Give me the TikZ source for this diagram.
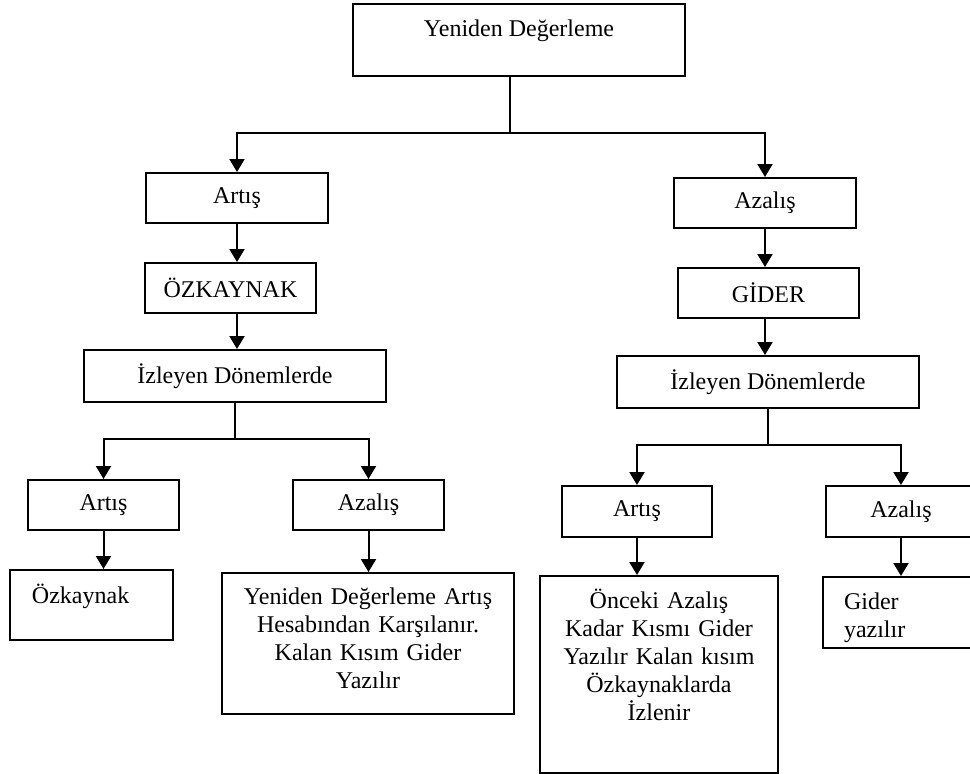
\documentclass[tikz,border=0pt]{standalone}
\usepackage{fontspec}
\setmainfont{Liberation Serif}
\usetikzlibrary{arrows.meta}
\tikzset{
  box/.style={draw=black, line width=1pt, anchor=north west, inner sep=0pt, font=\fontsize{12}{14}\selectfont},
  arr/.style={draw=black, line width=1pt, -{Triangle[length=6.5pt,width=7.5pt]}},
  link/.style={draw=black, line width=1pt}
}

\begin{document}
\begin{tikzpicture}[x=0.5pt,y=-0.5pt]
\useasboundingbox (0,0) rectangle (970,773);
% top box
\node[box, minimum width=166pt, text height=16pt, text depth=20pt] (YD) at (352,3) {Yeniden Değerleme};

% left branch
\node[box, minimum width=91pt, minimum height=25pt] (LA) at (145,172) {Artış};
\node[box, minimum width=85.5pt, minimum height=25pt] (LO) at (144,262) {ÖZKAYNAK};
\node[box, minimum width=151pt, minimum height=26pt] (LI) at (83,349) {İzleyen Dönemlerde};
\node[box, minimum width=75.5pt, minimum height=25pt] (LLA) at (27,479) {Artış};
\node[box, minimum width=75.5pt, minimum height=25pt] (LLZ) at (292,479) {Azalış};
\node[box, inner xsep=11pt, text width=59.5pt, align=left, text height=16.5pt, text depth=18.5pt] (LOK) at (9,569) {Özkaynak};
\node[box, text width=146pt, align=center, text height=15.5pt, text depth=55pt] (LB) at (221,572) {Yeniden Değerleme Artış\\ Hesabından Karşılanır.\\ Kalan Kısım Gider\\ Yazılır};

% right branch
\node[box, minimum width=91pt, minimum height=25pt] (RZ) at (673,177) {Azalış};
\node[box, minimum width=90.5pt, minimum height=25pt] (RG) at (677,267) {GİDER};
\node[box, minimum width=151pt, minimum height=26pt] (RI) at (616,355) {İzleyen Dönemlerde};
\node[box, minimum width=75pt, minimum height=25.5pt] (RRA) at (561,485) {Artış};
\node[box, minimum width=75pt, minimum height=25.5pt] (RRZ) at (825,485) {Azalış};
\node[box, text width=119pt, align=center, text height=16pt, text depth=82.5pt] (RB) at (539,575) {Önceki Azalış\\ Kadar Kısmı Gider\\ Yazılır Kalan kısım\\ Özkaynaklarda\\ İzlenir};
\node[box, inner xsep=10.5pt, text width=63pt, align=left, text height=16pt, text depth=19.5pt] (RGY) at (822,576) {Gider\\ yazılır};

% connectors
\coordinate (split1) at (510,133);
\draw[link] (split1 |- YD.south) -- (split1);
\draw[arr] (split1) -| (LA.north);
\draw[arr] (split1) -| (RZ.north);

\draw[arr] (LA.south) -- (LA.south |- LO.north);
\draw[arr] (LA.south |- LO.south) -- (LA.south |- LI.north);
\coordinate (split2) at (233,439);
\draw[link] (LI.south) -- (LI.south |- split2);
\draw[arr] (LI.south |- split2) -| (LLA.north);
\draw[arr] (LI.south |- split2) -| (LLZ.north);
\draw[arr] (LLA.south) -- (LLA.south |- LOK.north);
\draw[arr] (LLZ.south) -- (LLZ.south |- LB.north);

\draw[arr] (RZ.south) -- (RZ.south |- RG.north);
\draw[arr] (RZ.south |- RG.south) -- (RZ.south |- RI.north);
\coordinate (split3) at (766,445);
\draw[link] (RI.south) -- (RI.south |- split3);
\draw[arr] (RI.south |- split3) -| (RRA.north);
\draw[arr] (RI.south |- split3) -| (RRZ.north);
\draw[arr] (RRA.south) -- (RRA.south |- RB.north);
\draw[arr] (RRZ.south) -- (RRZ.south |- RGY.north);
\end{tikzpicture}
\end{document}
